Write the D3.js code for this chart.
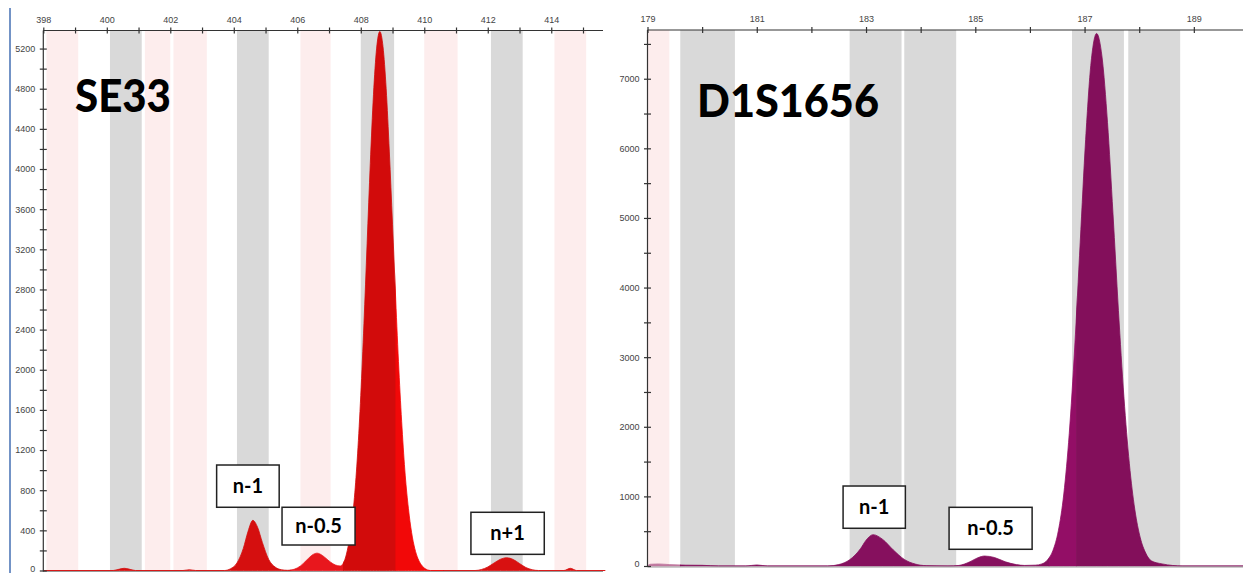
<!DOCTYPE html>
<html>
<head>
<meta charset="utf-8">
<script src="https://cdn.jsdelivr.net/npm/d3@7"></script>
<style>
  body { margin: 0; background: #fff; }
  svg { display: block; }
</style>
</head>
<body>
<svg id="chart" width="1243" height="573"></svg>
<script>
// ---------- data ----------
// SE33 panel: size (bp) vs RFU
const seXMajor = [398, 400, 402, 404, 406, 408, 410, 412, 414];
const seXMinor = [399, 401, 403, 405, 407, 409, 411, 413, 415];
const seYMajor = [0, 400, 800, 1200, 1600, 2000, 2400, 2800, 3200, 3600, 4000, 4400, 4800, 5200];
const seYMinor = [200, 600, 1000, 1400, 1800, 2200, 2600, 3000, 3400, 3800, 4200, 4600, 5000];
const seBins = [
  [398.1, 399.1, "virtual"], [400.1, 401.1, "bin"], [401.2, 402.0, "virtual"],
  [402.1, 403.15, "virtual"], [404.1, 405.1, "bin"], [406.1, 407.05, "virtual"],
  [408.0, 409.05, "bin"], [410.0, 411.05, "virtual"], [412.1, 413.1, "bin"],
  [414.1, 415.1, "virtual"]
];
const seTrace = [
  [398.0, 0], [400.2, 0], [400.4, 14], [400.55, 22], [400.7, 14], [400.9, 0],
  [402.4, 0], [402.6, 8], [402.8, 0],
  [403.7, 0], [403.9, 18], [404.1, 75], [404.3, 220], [404.45, 390], [404.6, 500],
  [404.75, 430], [404.9, 280], [405.1, 110], [405.3, 35], [405.5, 8], [405.7, 2],
  [405.9, 12], [406.1, 45], [406.3, 105], [406.5, 160], [406.62, 173], [406.8, 148],
  [407.0, 95], [407.2, 55], [407.35, 45],
  [407.5, 110], [407.6, 236], [407.7, 427], [407.8, 727], [407.9, 1162], [408.0, 1744],
  [408.1, 2459], [408.2, 3257], [408.3, 4055], [408.4, 4740], [408.5, 5205], [408.6, 5370],
  [408.7, 5220], [408.8, 4800], [408.9, 4170], [409.0, 3450], [409.1, 2700], [409.2, 2000],
  [409.3, 1420], [409.4, 950], [409.5, 620], [409.6, 380], [409.7, 220], [409.8, 120],
  [409.9, 60], [410.0, 25], [410.2, 0],
  [411.6, 0], [411.8, 10], [412.0, 35], [412.2, 75], [412.4, 112], [412.6, 127],
  [412.8, 110], [413.0, 70], [413.2, 30], [413.4, 8], [413.6, 0],
  [414.4, 0], [414.6, 22], [414.8, 0], [415.7, 0]
];
const seLabels = ["n-1", "n-0.5", "n+1"];

// D1S1656 panel
const d1XMajor = [179, 181, 183, 185, 187, 189];
const d1XMinor = [180, 182, 184, 186, 188, 190];
const d1YMajor = [0, 1000, 2000, 3000, 4000, 5000, 6000, 7000];
const d1YMinor = [500, 1500, 2500, 3500, 4500, 5500, 6500, 7500];
const d1Bins = [
  [179.0, 179.4, "virtual"], [179.6, 180.6, "bin"], [182.7, 183.65, "bin"],
  [183.7, 184.65, "bin"], [186.77, 187.72, "bin"], [187.8, 188.75, "bin"]
];
const d1Trace = [
  [179.0, 0], [179.05, 25], [179.2, 30], [179.4, 20], [179.7, 12], [180.0, 10], [180.3, 0],
  [180.8, 0], [181.0, 15], [181.2, 0],
  [182.3, 0], [182.5, 20], [182.7, 90], [182.9, 250], [183.0, 370], [183.13, 450],
  [183.3, 385], [183.5, 230], [183.7, 95], [183.9, 28], [184.1, 5], [184.5, 0],
  [184.7, 8], [184.9, 60], [185.05, 120], [185.17, 143], [185.35, 122], [185.55, 60],
  [185.75, 20], [185.9, 8],
  [186.1, 12], [186.22, 30], [186.32, 85], [186.42, 220], [186.52, 505], [186.62, 1035],
  [186.72, 1905], [186.82, 3145], [186.92, 4645], [187.02, 6130], [187.12, 7240], [187.22, 7650],
  [187.32, 7310], [187.42, 6370], [187.52, 5065], [187.62, 3670], [187.72, 2430], [187.82, 1470],
  [187.92, 810], [188.02, 405], [188.12, 185], [188.22, 75], [188.42, 30], [188.8, 0], [189.9, 0]
];
const d1Labels = ["n-1", "n-0.5"];

// ---------- drawing ----------
const svg = d3.select("#chart");

// thin blue edge on the far left
svg.append("rect").attr("x", 9).attr("y", 8).attr("width", 2).attr("height", 565).attr("fill", "#7393c6");

function drawPanel(p) {
  const x = d3.scaleLinear().domain(p.xDomain).range(p.xRange);
  const y = d3.scaleLinear().domain(p.yDomain).range(p.yRange);
  const g = svg.append("g");
  const top = p.yRange[1], bottom = p.yRange[0];

  // bins
  g.selectAll("rect.bin")
    .data(p.bins)
    .join("rect")
    .attr("class", "bin")
    .attr("x", d => x(d[0]))
    .attr("y", top)
    .attr("width", d => x(d[1]) - x(d[0]))
    .attr("height", bottom - top)
    .attr("fill", d => d[2] === "bin" ? "#d9d9d9" : "#fdeded");

  // trace, split into colour segments
  const area = d3.area()
    .x(d => x(d[0]))
    .y0(y(0))
    .y1(d => y(d[1]))
    .curve(d3.curveMonotoneX);
  p.segments.forEach((s, i) => {
    const id = p.id + "clip" + i;
    g.append("clipPath").attr("id", id)
      .append("rect")
      .attr("x", x(s[0]) - 0.3).attr("y", 0)
      .attr("width", x(s[1]) - x(s[0]) + 0.6).attr("height", 600);
    g.append("path")
      .datum(p.trace)
      .attr("clip-path", `url(#${id})`)
      .attr("d", area)
      .attr("fill", s[2])
      .attr("stroke", s[2])
      .attr("stroke-width", 0.8);
  });

  // baseline
  g.append("line")
    .attr("x1", p.xRange[0]).attr("x2", p.xRange[1])
    .attr("y1", bottom + 1).attr("y2", bottom + 1)
    .attr("stroke", "#9a9a9a").attr("stroke-width", 1.2);

  // top axis
  const xAxis = g.append("g").attr("transform", `translate(0,${top})`)
    .call(d3.axisTop(x).tickValues(p.xMajor).tickSize(4).tickPadding(4).tickFormat(d3.format("d")));
  g.append("g").attr("transform", `translate(0,${top})`)
    .call(d3.axisTop(x).tickValues(p.xMinor).tickSize(4).tickFormat(""))
    .call(a => a.select(".domain").remove());
  g.selectAll(".tick line").attr("y2", -3).attr("y1", 3);
  xAxis.select(".domain").attr("d", `M${p.xRange[0]},0H${p.xRange[1]}`);

  // left axis
  const yAxis = g.append("g").attr("transform", `translate(${p.xRange[0]},0)`)
    .call(d3.axisLeft(y).tickValues(p.yMajor).tickSize(4).tickPadding(4).tickFormat(d3.format("d")));
  const yMinor = g.append("g").attr("transform", `translate(${p.xRange[0]},0)`)
    .call(d3.axisLeft(y).tickValues(p.yMinor).tickSize(4).tickFormat(""));
  yMinor.select(".domain").remove();
  yAxis.select(".domain").attr("d", `M0,${top}V${bottom + 1}`);
  [yAxis, yMinor].forEach(a => a.selectAll(".tick line").attr("x2", -3.5).attr("x1", 3.5));
  // keep the "0" label inside the picture
  yAxis.selectAll(".tick text").filter(d => d === 0).attr("dy", "0.1em");

  g.selectAll(".domain").attr("stroke", "#333").attr("stroke-width", 1.2);
  g.selectAll(".tick line").attr("stroke", "#333").attr("stroke-width", 1.2);
  g.selectAll(".tick text")
    .attr("fill", "#444")
    .style("font-family", "'Liberation Sans', Arial, sans-serif")
    .style("font-size", "9px");

  // marker name
  g.append("text")
    .attr("x", p.title.x).attr("y", p.title.y)
    .attr("font-family", "Lato, 'Open Sans', sans-serif")
    .attr("font-weight", 900)
    .attr("font-size", 46)
    .attr("textLength", p.title.w)
    .attr("lengthAdjust", "spacingAndGlyphs")
    .attr("fill", "#000")
    .text(p.title.text);

  // stutter labels
  p.labels.forEach((t, i) => {
    const b = p.labelBoxes[i];
    const x0 = x(b[0]), x1 = x(b[1]), y0 = y(b[2]), y1 = y(b[3]);
    g.append("rect")
      .attr("x", x0).attr("y", y0)
      .attr("width", x1 - x0).attr("height", y1 - y0)
      .attr("fill", "#fff").attr("stroke", "#222").attr("stroke-width", 1.5);
    g.append("text")
      .attr("x", (x0 + x1) / 2).attr("y", (y0 + y1) / 2 + 7)
      .attr("text-anchor", "middle")
      .attr("font-family", "Lato, 'Open Sans', sans-serif")
      .attr("font-weight", 700)
      .attr("font-size", 20)
      .attr("fill", "#000")
      .text(t);
  });
}

drawPanel({
  id: "se",
  xDomain: [398, 415.63], xRange: [43.3, 603],
  yDomain: [0, 5380], yRange: [570.5, 30.5],
  xMajor: seXMajor, xMinor: seXMinor, yMajor: seYMajor, yMinor: seYMinor,
  bins: seBins, trace: seTrace,
  segments: [[398, 405.8, "#d50f0f"], [405.8, 407.45, "#e8171d"], [407.45, 409.1, "#d20b0b"],
             [409.1, 410.6, "#f20808"], [410.6, 416, "#d81111"]],
  title: { text: "SE33", x: 75, y: 112, w: 96 },
  labels: seLabels,
  labelBoxes: [[403.46, 405.43, 1051, 630], [405.52, 407.82, 630, 254], [411.47, 413.78, 580, 161]]
});

drawPanel({
  id: "d1",
  xDomain: [179, 189.9], xRange: [647.5, 1243],
  yDomain: [0, 7700], yRange: [566, 30],
  xMajor: d1XMajor, xMinor: d1XMinor, yMajor: d1YMajor, yMinor: d1YMinor,
  bins: d1Bins, trace: d1Trace,
  segments: [[179, 179.6, "#c07aa0"], [179.6, 186.35, "#86105e"], [186.35, 186.85, "#930e66"],
             [186.85, 190, "#830f5b"]],
  title: { text: "D1S1656", x: 697, y: 117, w: 182 },
  labels: d1Labels,
  labelBoxes: [[182.58, 183.72, 1149, 542], [184.52, 186.04, 843, 240]]
});
</script>
</body>
</html>
